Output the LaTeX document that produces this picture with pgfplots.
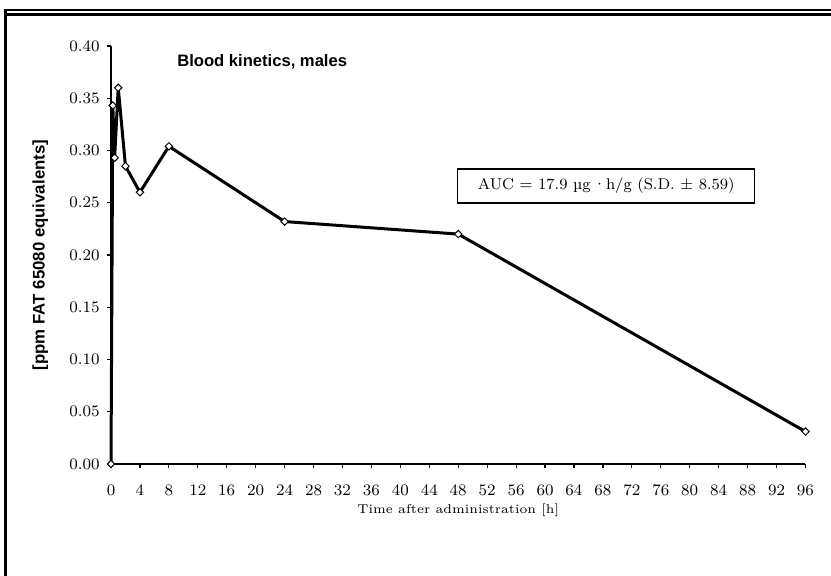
\documentclass[border=0pt]{standalone}
\usepackage{fontspec}
\usepackage{pgfplots}
\pgfplotsset{compat=1.18}
\newfontfamily\headsans{Liberation Sans}

\begin{document}
\begin{tikzpicture}[x=1pt,y=1pt]
% page area and the chart frame (double rule on top, heavy rule on the left)
\path (0,0) rectangle (415.5,288);
\fill (2,0) rectangle (3.5,283.4);
\fill (2,282.35) rectangle (415.5,283.4);
\fill (3.5,280.15) rectangle (415.5,281.35);

\begin{axis}[
  at={(55.5pt,56pt)}, anchor=south west,
  scale only axis, width=347.25pt, height=209pt,
  xmin=0, xmax=96, ymin=0, ymax=0.4,
  axis x line=bottom, axis y line=left,
  axis line style={-, line width=0.9pt},
  tick align=outside, major tick length=2.2pt,
  tick style={line width=0.6pt, black},
  xtick={0,4,...,96},
  ytick={0,0.05,0.1,0.15,0.2,0.25,0.3,0.35,0.4},
  ticklabel style={font=\fontsize{8}{10}\selectfont},
  xticklabel style={yshift=-5pt},
  yticklabel style={/pgf/number format/.cd, fixed, fixed zerofill, precision=2},
  xlabel={Time after administration [h]},
  xlabel style={at={(axis description cs:0.5,-0.11)}, anchor=center,
    font=\fontsize{6.4}{8}\selectfont},
  ylabel={[ppm FAT 65080 equivalents]},
  ylabel style={at={(axis description cs:-0.102,0.5)}, anchor=center,
    font=\headsans\bfseries\fontsize{8.4}{10}\selectfont},
  clip=false,
]
\addplot[black, line width=1.5pt, mark=square*, mark size=1.3pt,
  mark options={fill=white, rotate=45, line width=0.5pt}] table {
  t     c
  0     0.000
  0.25  0.343
  0.5   0.293
  1     0.360
  2     0.285
  4     0.260
  8     0.304
  24    0.232
  48    0.220
  96    0.031
};
\node[font=\headsans\bfseries\fontsize{8.3}{10}\selectfont]
  at (axis cs:20.9,0.385) {Blood kinetics, males};
\node[draw, line width=0.6pt, minimum width=148.5pt, minimum height=17pt,
  inner sep=0pt, font=\fontsize{7.8}{9}\selectfont]
  at (axis cs:68.46,0.266) {AUC = 17.9 µg\,·h/g (S.D. ± 8.59)};
\end{axis}
\end{tikzpicture}
\end{document}
